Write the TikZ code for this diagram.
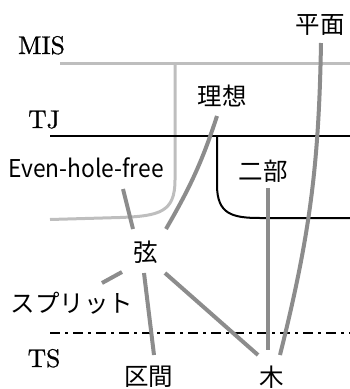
\documentclass[tikz,border=0pt]{standalone}
\usepackage{fontspec}
\newfontfamily\jp{Noto Sans CJK JP}
\newfontfamily\cmten{lmroman10-regular}[Extension=.otf,FakeBold=0.8]
\definecolor{linkgray}{RGB}{140,140,140}
\definecolor{misgray}{RGB}{190,190,190}
\begin{document}
\begin{tikzpicture}[x=1pt,y=-1pt,
  lbl/.style={font=\cmten\fontsize{25.5}{28}\selectfont, inner sep=0, anchor=base},
  jlbl/.style={font=\jp\fontsize{24.5}{28}\selectfont, inner sep=0},
  link/.style={line width=4pt, draw=linkgray},
  misline/.style={line width=3pt, draw=misgray},
  tjline/.style={line width=2pt, draw=black},
  tsline/.style={line width=2.4pt, draw=black, dash pattern=on 10pt off 5pt on 2.5pt off 5.5pt}]
\useasboundingbox (0,0) rectangle (350,389);

% level labels
\node[lbl] (mis) at (41.5,54) {MIS};
\node[lbl] (tj) at (44,128) {TJ};
\node[lbl] (ts) at (44,367) {TS};

% boundaries
\coordinate (misL) at (60,63);
\coordinate (misR) at (350,63);
\coordinate (misV) at (175,63);
\coordinate (misE) at (50,219.5);
\draw[misline] (misL) -- (misR);
\draw[misline] (misV) -- (175,180) .. controls (175,212) and (160,216) .. (120,217.5) -- (misE);

\coordinate (tjL) at (50,136);
\coordinate (tjR) at (350,136);
\coordinate (tjV) at (217,136);
\coordinate (tjE) at (350,218);
\draw[tjline] (tjL) -- (tjR);
\draw[tjline] (tjV) -- (217,185) .. controls (217,214) and (232,218) .. (260,218) -- (tjE);

\coordinate (tsL) at (50,333);
\coordinate (tsR) at (350,333);
\draw[tsline] (tsL) -- (tsR);

% graph classes
\node[jlbl] (heimen) at (320,25) {平面};
\node[jlbl] (risou) at (222,96) {理想};
\node[jlbl] (nibu) at (263,171) {二部};
\node[jlbl] (even) at (86,168) {\scalebox{0.93}[1]{Even-hole-free}};
\node[jlbl] (gen) at (146,252) {弦};
\node[jlbl] (split) at (72,303) {スプリット};
\node[jlbl] (kukan) at (149,377) {区間};
\node[jlbl] (ki) at (272,377) {木};

% connector ends
\coordinate (heimenB) at (321,43);
\coordinate (kiA) at (280,355);
\coordinate (risouB) at (217,116);
\coordinate (genA) at (166,229);
\coordinate (nibuB) at (268,188);
\coordinate (kiB) at (268,350);
\coordinate (evenB) at (123,189);
\coordinate (genB) at (133,229);
\coordinate (genS) at (122,272);
\coordinate (splitT) at (102,283);
\coordinate (genK) at (144,273);
\coordinate (kukanT) at (154,355);
\coordinate (genT) at (165,273);
\coordinate (kiC) at (258,355);

\draw[link] (heimenB) to[out=-91,in=76] (kiA);
\draw[link] (risouB) to[out=-108,in=60] (genA);
\draw[link] (nibuB) -- (kiB);
\draw[link] (evenB) -- (genB);
\draw[link] (genS) -- (splitT);
\draw[link] (genK) -- (kukanT);
\draw[link] (genT) -- (kiC);
\end{tikzpicture}
\end{document}
